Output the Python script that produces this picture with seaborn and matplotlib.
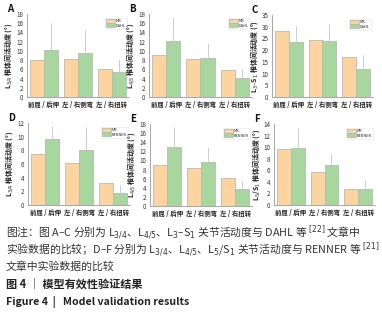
import numpy as np
import pandas as pd
import seaborn as sns
import matplotlib
matplotlib.use("Agg")
import matplotlib.pyplot as plt

sns.set_style("white")
plt.rcParams['font.family'] = ['Noto Sans CJK SC', 'DejaVu Sans']

categories = ["前屈 / 后伸", "左 / 右侧弯", "左 / 右扭转"]

a_mb = [8.0, 8.3, 6.1]
a_ref = [10.3, 9.6, 5.5]
a_err = [5.8, 5.0, 2.8]

b_mb = [9.0, 8.2, 5.9]
b_ref = [12.1, 8.4, 4.2]
b_err = [5.2, 3.4, 1.8]

c_mb = [28.0, 24.2, 17.2]
c_ref = [23.3, 23.7, 11.9]
c_err = [6.9, 7.6, 6.0]

d_mb = [7.5, 6.2, 3.2]
d_ref = [9.7, 8.1, 1.7]
d_err = [1.8, 3.3, 1.2]

e_mb = [9.1, 8.3, 6.1]
e_ref = [12.9, 9.6, 3.8]
e_err = [4.4, 3.4, 1.7]

f_mb = [9.7, 5.7, 2.7]
f_ref = [9.8, 7.0, 2.8]
f_err = [3.5, 1.8, 1.5]

panels = [
    ("A", a_mb, a_ref, a_err, "DAHL", r"L$_{3/4}$ 椎体间活动度 (°)", 18, 2),
    ("B", b_mb, b_ref, b_err, "DAHL", r"L$_{4/5}$ 椎体间活动度 (°)", 18, 2),
    ("C", c_mb, c_ref, c_err, "DAHL", r"L$_3$–S$_1$ 椎体间活动度 (°)", 35, 5),
    ("D", d_mb, d_ref, d_err, "RENNER", r"L$_{3/4}$ 椎体间活动度 (°)", 12, 2),
    ("E", e_mb, e_ref, e_err, "RENNER", r"L$_{4/5}$ 椎体间活动度 (°)", 18, 2),
    ("F", f_mb, f_ref, f_err, "RENNER", r"L$_5$/S$_1$ 椎体间活动度 (°)", 14, 2),
]

W, H = 382, 313
fig = plt.figure(figsize=(W / 100, H / 100), dpi=100)

# axes boxes in pixels: left, top, right, bottom
boxes = [
    (27, 14, 129, 97), (149, 14, 252, 97), (272, 15, 373, 97),
    (28, 123, 130, 205), (150, 124, 252, 206), (274, 124, 375, 205),
]

orange = "#FDD3A0"
green = "#A6D89E"

for (letter, mb, ref, err, refname, ylabel, ymax, step), (l, t, r, b) in zip(panels, boxes):
    ax = fig.add_axes([l / W, 1 - b / H, (r - l) / W, (b - t) / H])
    df = pd.DataFrame({
        "cat": categories * 2,
        "val": list(mb) + list(ref),
        "src": ["MB"] * 3 + [refname] * 3,
    })
    sns.barplot(data=df, x="cat", y="val", hue="src", ax=ax,
                palette=[orange, green], width=0.82, errorbar=None,
                edgecolor="#b8b8b8", linewidth=0.6, saturation=1)
    ref_patches = list(ax.containers[1])
    xs = [p.get_x() + p.get_width() / 2 for p in ref_patches]
    ax.errorbar(xs, ref, yerr=err, fmt="none", ecolor="#c4c4c4", elinewidth=0.6, capsize=0)
    ax.set_ylim(0, ymax)
    ax.set_xlim(-0.5, 2.5)
    ax.set_yticks(np.arange(0, ymax + 0.1, step))
    ax.tick_params(axis="y", labelsize=4.5, length=1.5, width=0.5, pad=1, colors="#333333")
    ax.tick_params(axis="x", labelsize=4.6, length=0, pad=3, colors="#222222")
    for lab in ax.get_xticklabels():
        lab.set_fontweight("bold")
    ax.set_xlabel("")
    ax.set_ylabel(ylabel, fontsize=5, labelpad=1, color="#222222", fontweight="bold")
    for s in ["top", "right"]:
        ax.spines[s].set_visible(False)
    for s in ["left", "bottom"]:
        ax.spines[s].set_color("#999999")
        ax.spines[s].set_linewidth(0.6)
    leg = ax.legend(loc="upper right", bbox_to_anchor=(1.0, 0.98), fontsize=2.8,
                    frameon=True, handlelength=2.2, handleheight=1.2,
                    borderpad=0.3, labelspacing=0.1, handletextpad=0.3)
    leg.get_frame().set_edgecolor("#dddddd")
    leg.get_frame().set_linewidth(0.4)
    fig.text((l - 20) / W, 1 - (t - 5) / H, letter, fontsize=7, fontweight="bold",
             color="#111111", ha="left", va="center")

cap_color = "#333333"
fig.text(6 / W, 1 - 233 / H,
         "图注：图 A–C 分别为 L$_{3/4}$、L$_{4/5}$、L$_3$–S$_1$ 关节活动度与 DAHL 等 $^{[22]}$ 文章中",
         fontsize=7.8, color=cap_color, va="center")
fig.text(6 / W, 1 - 250 / H,
         "实验数据的比较；D–F 分别为 L$_{3/4}$、L$_{4/5}$、L$_5$/S$_1$ 关节活动度与 RENNER 等 $^{[21]}$",
         fontsize=7.8, color=cap_color, va="center")
fig.text(6 / W, 1 - 266 / H, "文章中实验数据的比较",
         fontsize=7.8, color=cap_color, va="center")
fig.text(6 / W, 1 - 284 / H, "图 4 ｜ 模型有效性验证结果",
         fontsize=8, color="#222222", va="center", fontweight="bold")
fig.text(6 / W, 1 - 302 / H, "Figure 4  |   Model validation results",
         fontsize=7.6, color="#222222", va="center", fontweight="bold")

fig.savefig("out.png", dpi=100)
